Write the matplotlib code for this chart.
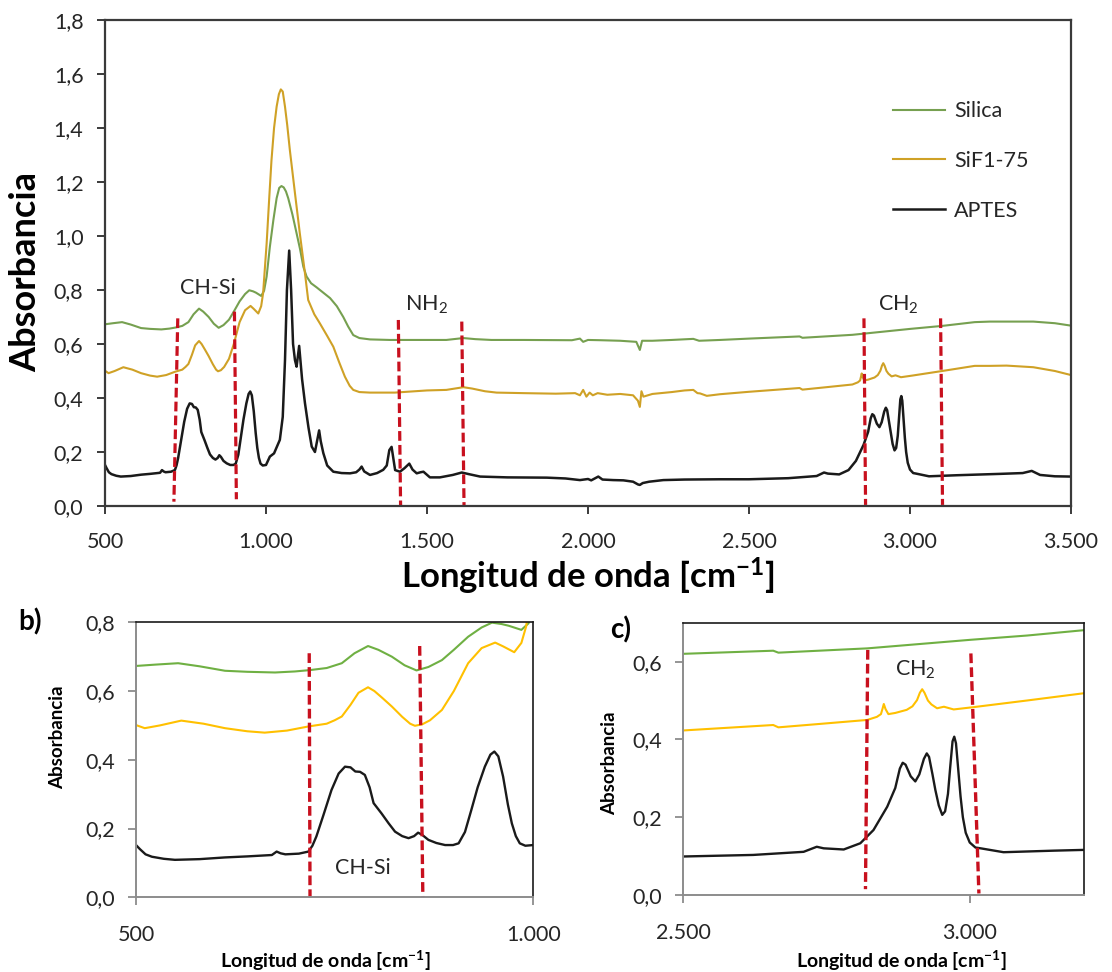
import matplotlib
matplotlib.use("Agg")
import matplotlib.pyplot as plt
from matplotlib.ticker import FuncFormatter, MultipleLocator, FixedLocator

plt.rcParams["font.family"] = ["Lato", "DejaVu Sans"]
plt.rcParams["mathtext.default"] = "regular"
plt.rcParams["lines.scale_dashes"] = False

# FTIR spectra (wavenumber in cm-1, absorbance)
silica_wn = [500, 525, 553, 580, 612, 640, 675, 700, 719, 740, 759, 775, 792, 805, 822, 838,
             853, 868, 885, 900, 918, 935, 948, 960, 969, 985, 994, 1002, 1012, 1023, 1033,
             1041, 1048, 1055, 1062, 1069, 1082, 1095, 1106, 1116, 1126, 1140, 1157, 1178,
             1199, 1220, 1240, 1255, 1271, 1290, 1323, 1385, 1500, 1560, 1613, 1650, 1700,
             1800, 1950, 1975, 1985, 2000, 2040, 2100, 2150, 2161, 2168, 2200, 2260, 2327,
             2345, 2410, 2500, 2657, 2666, 2821, 3001, 3100, 3201, 3248, 3383, 3450, 3500]
silica_abs = [0.673, 0.677, 0.681, 0.672, 0.659, 0.656, 0.654, 0.657, 0.661, 0.667, 0.681,
              0.710, 0.731, 0.720, 0.700, 0.675, 0.660, 0.670, 0.690, 0.720, 0.758, 0.785,
              0.799, 0.795, 0.790, 0.778, 0.797, 0.850, 0.960, 1.060, 1.140, 1.178, 1.185,
              1.180, 1.165, 1.140, 1.080, 1.010, 0.950, 0.886, 0.850, 0.825, 0.810, 0.790,
              0.770, 0.740, 0.700, 0.665, 0.633, 0.622, 0.617, 0.615, 0.615, 0.615, 0.622,
              0.618, 0.615, 0.615, 0.614, 0.620, 0.608, 0.615, 0.614, 0.612, 0.608, 0.578,
              0.612, 0.612, 0.615, 0.619, 0.612, 0.615, 0.620, 0.628, 0.623, 0.634, 0.656,
              0.667, 0.681, 0.683, 0.683, 0.677, 0.668]

sif_wn = [500, 511, 530, 557, 585, 612, 640, 662, 690, 717, 740, 750, 759, 770, 780, 792,
          800, 810, 822, 835, 845, 851, 860, 870, 885, 900, 918, 935, 952, 962, 976, 985,
          991, 1002, 1010, 1017, 1025, 1033, 1040, 1046, 1052, 1059, 1066, 1074, 1090, 1105,
          1121, 1131, 1150, 1167, 1190, 1209, 1228, 1245, 1260, 1271, 1290, 1323, 1400,
          1500, 1560, 1613, 1640, 1680, 1716, 1800, 1900, 1960, 1975, 1985, 1995, 2005,
          2015, 2030, 2060, 2100, 2140, 2155, 2161, 2166, 2172, 2200, 2260, 2300, 2327,
          2340, 2348, 2369, 2410, 2500, 2657, 2666, 2740, 2821, 2838, 2845, 2848, 2850,
          2853, 2858, 2870, 2890, 2900, 2908, 2913, 2917, 2921, 2927, 2933, 2943, 2955,
          2972, 3007, 3100, 3201, 3248, 3300, 3383, 3450, 3500]
sif_abs = [0.501, 0.492, 0.500, 0.514, 0.505, 0.492, 0.483, 0.479, 0.485, 0.497, 0.505,
           0.515, 0.526, 0.560, 0.595, 0.611, 0.600, 0.580, 0.555, 0.525, 0.505, 0.499,
           0.503, 0.515, 0.545, 0.600, 0.681, 0.725, 0.741, 0.730, 0.713, 0.740, 0.788,
           0.973, 1.140, 1.280, 1.400, 1.479, 1.525, 1.543, 1.535, 1.479, 1.410, 1.319,
           1.158, 1.010, 0.862, 0.763, 0.710, 0.677, 0.630, 0.590, 0.530, 0.479, 0.445,
           0.430, 0.422, 0.420, 0.420, 0.428, 0.430, 0.440, 0.435, 0.425, 0.420, 0.418,
           0.416, 0.418, 0.410, 0.430, 0.405, 0.420, 0.410, 0.418, 0.412, 0.415, 0.410,
           0.390, 0.367, 0.425, 0.405, 0.415, 0.422, 0.428, 0.430, 0.418, 0.417, 0.408,
           0.414, 0.423, 0.437, 0.431, 0.440, 0.450, 0.458, 0.465, 0.480, 0.491, 0.478,
           0.465, 0.468, 0.476, 0.485, 0.501, 0.520, 0.529, 0.520, 0.500, 0.490, 0.480,
           0.484, 0.477, 0.483, 0.500, 0.519, 0.519, 0.520, 0.514, 0.500, 0.485]

aptes_wn = [500, 505, 512, 520, 535, 549, 580, 612, 640, 671, 677, 682, 688, 705, 717, 722,
            727, 736, 746, 755, 763, 770, 776, 782, 788, 794, 799, 809, 818, 826, 835, 843,
            850, 855, 860, 868, 878, 889, 899, 906, 914, 922, 930, 939, 946, 951, 956, 962,
            968, 973, 978, 983, 990, 1000, 1012, 1025, 1043, 1052, 1059, 1065, 1072, 1078,
            1084, 1090, 1095, 1103, 1112, 1121, 1132, 1142, 1152, 1160, 1165, 1170, 1178,
            1190, 1209, 1235, 1261, 1280, 1290, 1297, 1305, 1323, 1345, 1364, 1375, 1383,
            1390, 1395, 1401, 1416, 1430, 1445, 1455, 1468, 1480, 1489, 1509, 1540, 1580,
            1608, 1630, 1665, 1750, 1872, 1930, 1975, 2000, 2010, 2032, 2045, 2078, 2110,
            2140, 2155, 2161, 2170, 2190, 2234, 2300, 2410, 2500, 2622, 2710, 2733, 2745,
            2780, 2809, 2832, 2856, 2870, 2878, 2883, 2888, 2897, 2905, 2912, 2920, 2925,
            2929, 2935, 2940, 2946, 2952, 2957, 2962, 2966, 2970, 2973, 2976, 2980, 2984,
            2988, 2993, 3000, 3010, 3019, 3059, 3147, 3201, 3280, 3350, 3378, 3404, 3450,
            3500]
aptes_abs = [0.152, 0.140, 0.125, 0.118, 0.112, 0.109, 0.111, 0.116, 0.119, 0.123, 0.133,
             0.128, 0.125, 0.127, 0.133, 0.150, 0.177, 0.240, 0.312, 0.360, 0.380, 0.378,
             0.366, 0.365, 0.356, 0.320, 0.274, 0.244, 0.215, 0.191, 0.178, 0.172, 0.178,
             0.188, 0.182, 0.167, 0.158, 0.152, 0.152, 0.157, 0.190, 0.254, 0.320, 0.380,
             0.415, 0.424, 0.410, 0.351, 0.270, 0.215, 0.178, 0.157, 0.150, 0.152, 0.183,
             0.195, 0.245, 0.330, 0.540, 0.800, 0.946, 0.800, 0.600, 0.540, 0.516, 0.593,
             0.470, 0.381, 0.290, 0.220, 0.200, 0.250, 0.280, 0.240, 0.196, 0.150, 0.127,
             0.122, 0.121, 0.125, 0.135, 0.146, 0.128, 0.115, 0.122, 0.134, 0.150, 0.207,
             0.219, 0.180, 0.133, 0.127, 0.140, 0.157, 0.135, 0.121, 0.125, 0.127, 0.106,
             0.106, 0.115, 0.124, 0.118, 0.109, 0.106, 0.105, 0.102, 0.096, 0.100, 0.095,
             0.109, 0.098, 0.096, 0.095, 0.090, 0.080, 0.078, 0.085, 0.090, 0.096, 0.098,
             0.099, 0.099, 0.103, 0.111, 0.124, 0.120, 0.117, 0.133, 0.167, 0.227, 0.275,
             0.325, 0.340, 0.335, 0.305, 0.292, 0.310, 0.350, 0.364, 0.355, 0.310, 0.270,
             0.230, 0.206, 0.215, 0.260, 0.330, 0.395, 0.407, 0.390, 0.320, 0.253, 0.200,
             0.160, 0.135, 0.122, 0.120, 0.110, 0.114, 0.116, 0.119, 0.122, 0.130, 0.115,
             0.110, 0.109]

series_names = ["Silica", "SiF1-75", "APTES"]

# band markers: (wn_top, abs_top, wn_bottom, abs_bottom)
main_bands = [(726, 0.695, 714, 0.016), (902, 0.720, 908, 0.025),
              (1411, 0.689, 1418, 0.0), (1608, 0.683, 1615, 0.0),
              (2857, 0.695, 2862, 0.004), (3095, 0.695, 3101, 0.004)]
zoom_b_bands = [(718, 0.710, 719, 0.0), (857, 0.731, 861, 0.0)]
zoom_c_bands = [(2822, 0.630, 2818, 0.015), (3002, 0.621, 3016, 0.004)]

main_labels = [("CH-Si", 821, 0.806), ("NH$_2$", 1499, 0.744), ("CH$_2$", 2964, 0.744)]
zoom_b_labels = [("CH-Si", 786, 0.084)]
zoom_c_labels = [("CH$_2$", 2905, 0.578)]

main_colors = ["#76a050", "#cfa126", "#1a1a1a"]
zoom_colors = ["#6fb043", "#ffc000", "#1a1a1a"]
band_color = "#c8101e"
text_color = "#262626"

comma_fmt = FuncFormatter(lambda v, pos: f"{v:.1f}".replace(".", ","))
thousands_fmt = FuncFormatter(lambda v, pos: f"{v:,.0f}".replace(",", "."))


def draw_spectra(ax, colors, lws):
    data = [(silica_wn, silica_abs), (sif_wn, sif_abs), (aptes_wn, aptes_abs)]
    for (wn, ab), name, c, lw in zip(data, series_names, colors, lws):
        ax.plot(wn, ab, color=c, lw=lw, label=name, solid_joinstyle="round")


def draw_bands(ax, bands, lw):
    for x0, y0, x1, y1 in bands:
        ax.plot([x0, x1], [y0, y1], color=band_color, lw=lw,
                linestyle=(0, (7, 3)), clip_on=False)


W, H = 1112, 972
fig = plt.figure(figsize=(W / 100, H / 100), dpi=100)


def fig_text(x, y, s, **kw):
    # place text using pixel coordinates measured from the top-left corner
    return fig.text(x / W, 1 - y / H, s, ha="center", va="center", **kw)


# main spectrum
ax = fig.add_axes([105 / W, 1 - 506 / H, 966 / W, 486 / H])
draw_spectra(ax, main_colors, [1.5, 1.5, 1.8])
draw_bands(ax, main_bands, 2.3)
for txt, x, y in main_labels:
    ax.text(x, y, txt, ha="center", va="center", fontsize=15.5, color=text_color)
ax.set_xlim(500, 3500)
ax.set_ylim(0, 1.8)
ax.xaxis.set_major_locator(MultipleLocator(500))
ax.yaxis.set_major_locator(MultipleLocator(0.2))
ax.xaxis.set_major_formatter(thousands_fmt)
ax.yaxis.set_major_formatter(comma_fmt)
for s in ax.spines.values():
    s.set_color("#3a3a3a")
    s.set_linewidth(1.6)
ax.tick_params(axis="both", direction="out", length=5.5, width=1.4, color="#3a3a3a",
               labelsize=15.5, labelcolor=text_color)
ax.tick_params(axis="y", pad=10)
ax.tick_params(axis="x", pad=13)
fig_text(26, 272, "Absorbancia", fontsize=26, fontweight="bold", rotation=90)
fig_text(588, 576, "Longitud de onda [cm$^{-1}$]", fontsize=25, fontweight="bold")
leg = ax.legend(loc="center left", bbox_to_anchor=((893 - 105) / 966, (506 - 161) / 486),
                frameon=False, fontsize=15.5, handlelength=2.4, handletextpad=0.45,
                labelspacing=1.38, borderpad=0, borderaxespad=0)
for t in leg.get_texts():
    t.set_color(text_color)


def zoom_panel(rect, xlim, ylim, xticks, bands, labels, tag, tag_xy, ylabel_xy, xlabel_xy):
    zax = fig.add_axes(rect)
    draw_spectra(zax, zoom_colors, [1.5, 1.5, 1.7])
    draw_bands(zax, bands, 2.4)
    for txt, x, y in labels:
        zax.text(x, y, txt, ha="center", va="center", fontsize=15.5, color=text_color)
    zax.set_xlim(*xlim)
    zax.set_ylim(*ylim)
    zax.xaxis.set_major_locator(FixedLocator(xticks))
    zax.yaxis.set_major_locator(MultipleLocator(0.2))
    zax.xaxis.set_major_formatter(thousands_fmt)
    zax.yaxis.set_major_formatter(comma_fmt)
    for side in ("left", "bottom"):
        zax.spines[side].set_color("#8c8c8c")
        zax.spines[side].set_linewidth(1.4)
    for side in ("top", "right"):
        zax.spines[side].set_color("#1a1a1a")
        zax.spines[side].set_linewidth(1.2)
    zax.tick_params(axis="both", direction="out", length=6, width=1.3, color="#8c8c8c",
                    labelsize=15.5, labelcolor=text_color)
    zax.tick_params(axis="y", pad=9)
    zax.tick_params(axis="x", pad=14)
    fig_text(*ylabel_xy, "Absorbancia", fontsize=13.5, fontweight="bold", rotation=90)
    fig_text(*xlabel_xy, "Longitud de onda [cm$^{-1}$]", fontsize=14, fontweight="bold")
    fig_text(*tag_xy, tag, fontsize=20, fontweight="bold")
    return zax


zoom_panel([136 / W, 1 - 897.3 / H, 397.3 / W, 275 / H], (500, 1000), (0, 0.8), [500, 1000],
           zoom_b_bands, zoom_b_labels, "b)", (30, 622), (58, 737), (325, 961))
zoom_panel([683.3 / W, 1 - 895 / H, 401 / W, 272.3 / H], (2500, 3200), (0, 0.7), [2500, 3000],
           zoom_c_bands, zoom_c_labels, "c)", (621, 630), (610, 763), (901, 961))

fig.savefig("out.png", dpi=100)
